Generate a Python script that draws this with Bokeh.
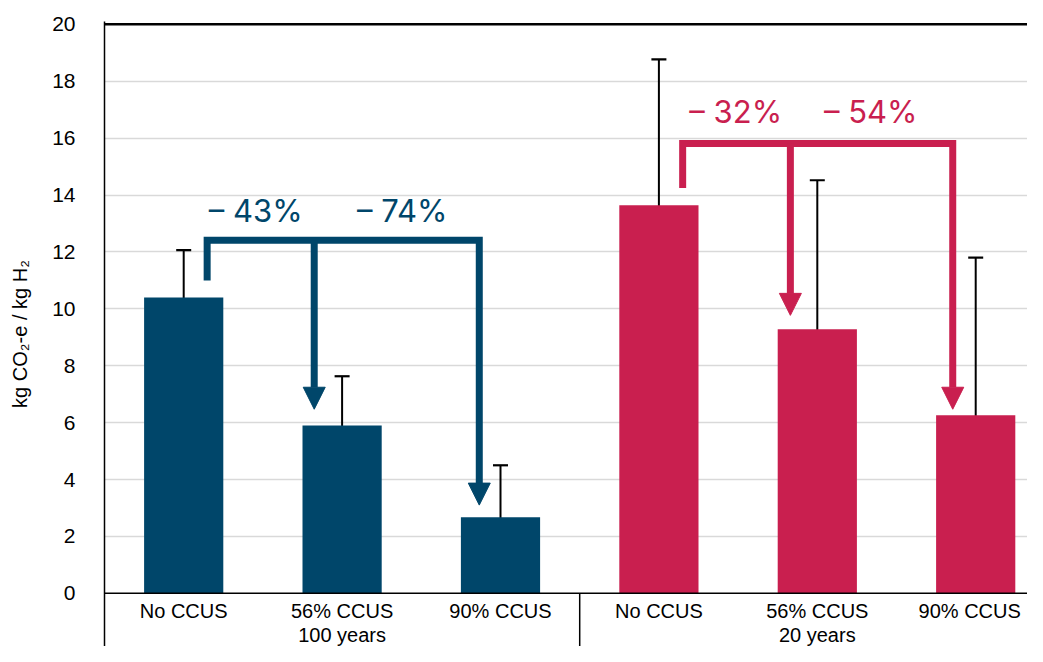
from bokeh.plotting import figure
from bokeh.models import ColumnDataSource, Whisker, TeeHead, Span, FixedTicker, Arrow, NormalHead, Range1d
from bokeh.core.properties import value
from bokeh.embed import file_html
from bokeh.resources import INLINE

# ---------------- data ----------------
scenarios = ["No CCUS", "56% CCUS", "90% CCUS"]
horizons = ["100 years", "20 years"]
emissions_100 = [10.40, 5.90, 2.67]
upper_100 = [12.06, 7.63, 4.50]
lower_100 = [9.60, 5.24, 1.86]
emissions_20 = [13.64, 9.28, 6.26]
upper_20 = [18.77, 14.52, 11.80]
lower_20 = [11.42, 7.10, 3.76]
reductions_100 = ["\u2013 43%", "\u2013 74%"]
reductions_20 = ["\u2013 32%", "\u2013 54%"]
y_ticks = list(range(0, 21, 2))

BLUE = "#00466A"
RED = "#C91F4F"
FONT = "Liberation Sans"
Y_MIN = -1.87

xs = list(range(6))
src = ColumnDataSource(dict(
    x=xs,
    top=emissions_100 + emissions_20,
    upper=upper_100 + upper_20,
    lower=lower_100 + lower_20,
    color=[BLUE] * 3 + [RED] * 3,
))

p = figure(width=1027, height=646, output_backend="svg", toolbar_location=None,
           x_range=Range1d(-0.5, 5.327), y_range=Range1d(Y_MIN, 20.1),
           x_axis_location=None, min_border_left=104, min_border_right=0,
           min_border_top=21, min_border_bottom=0)
p.outline_line_color = None
p.background_fill_color = "white"

# y axis
p.yaxis.ticker = FixedTicker(ticks=y_ticks)
p.yaxis.major_tick_line_color = None
p.yaxis.minor_tick_line_color = None
p.yaxis.axis_line_color = "black"
p.yaxis.axis_line_width = 1.5
p.yaxis.major_label_text_font = FONT
p.yaxis.major_label_text_font_size = "21px"
p.yaxis.major_label_text_color = "black"
p.yaxis.major_label_standoff = 23
p.yaxis.axis_label = "kg CO\u2082-e / kg H\u2082"
p.yaxis.axis_label_text_font = FONT
p.yaxis.axis_label_text_font_size = "20px"
p.yaxis.axis_label_text_font_style = "normal"
p.yaxis.axis_label_text_color = "black"
p.yaxis.axis_label_standoff = 18

p.xgrid.visible = False
p.ygrid.ticker = FixedTicker(ticks=y_ticks[1:-1])
p.ygrid.grid_line_color = "#d9d9d9"
p.ygrid.grid_line_width = 1.5

# bars
p.vbar(x="x", top="top", width=0.5, bottom=0, fill_color="color", line_color=None, source=src)

# error bars
p.add_layout(Whisker(base="x", upper="upper", lower="lower", source=src,
                     line_color="black", line_width=2,
                     upper_head=TeeHead(size=15, line_color="black", line_width=2.2),
                     lower_head=TeeHead(size=15, line_color="black", line_width=2.2)))

# frame lines
p.add_layout(Span(location=0, dimension="width", line_color="black", line_width=1.5))
p.add_layout(Span(location=20, dimension="width", line_color="black", line_width=2.5))
p.segment(x0=[2.5], y0=[0], x1=[2.5], y1=[Y_MIN], line_color="black", line_width=1.5)

# category labels
p.text(x=xs, y=[-0.63] * 6, text=scenarios * 2, text_font=value(FONT), text_font_size="20px",
       x_offset=[0, 0, 0, 0, 0, -6],
       text_color="black", text_align="center", text_baseline="middle")
p.text(x=[1, 4], y=[-1.47] * 2, text=horizons, text_font=value(FONT), text_font_size="20px",
       text_color="black", text_align="center", text_baseline="middle")

# reduction brackets (annotation layout)
HEAD = 0.773
def bracket(color, x0, y0, ytop, x1, tip1, x2, tip2, labels, lx, ly):
    p.line(x=[x0, x0, x2, x2], y=[y0, ytop, ytop, tip2 + HEAD], line_color=color,
           line_width=7, line_join="miter")
    p.line(x=[x1, x1], y=[ytop, tip1 + HEAD], line_color=color, line_width=7)
    for xx, tt in ((x1, tip1), (x2, tip2)):
        p.add_layout(Arrow(end=NormalHead(size=22, fill_color=color, line_color=color, line_width=1),
                           x_start=xx, y_start=tt + HEAD, x_end=xx, y_end=tt, line_alpha=0))
    p.text(x=lx, y=[ly] * 2, text=labels, text_font=value("Inter"), text_font_size="31px",
           text_color=color, text_align="center", text_baseline="middle")

bracket(BLUE, 0.148, 11.0, 12.41, 0.824, 6.47, 1.866, 3.10, reductions_100, [0.455, 1.38], 13.46)
bracket(RED, 3.150, 14.25, 15.81, 3.830, 9.77, 4.855, 6.47, reductions_20, [3.485, 4.337], 16.92)

open("out.html", "w").write(file_html(p, INLINE))
